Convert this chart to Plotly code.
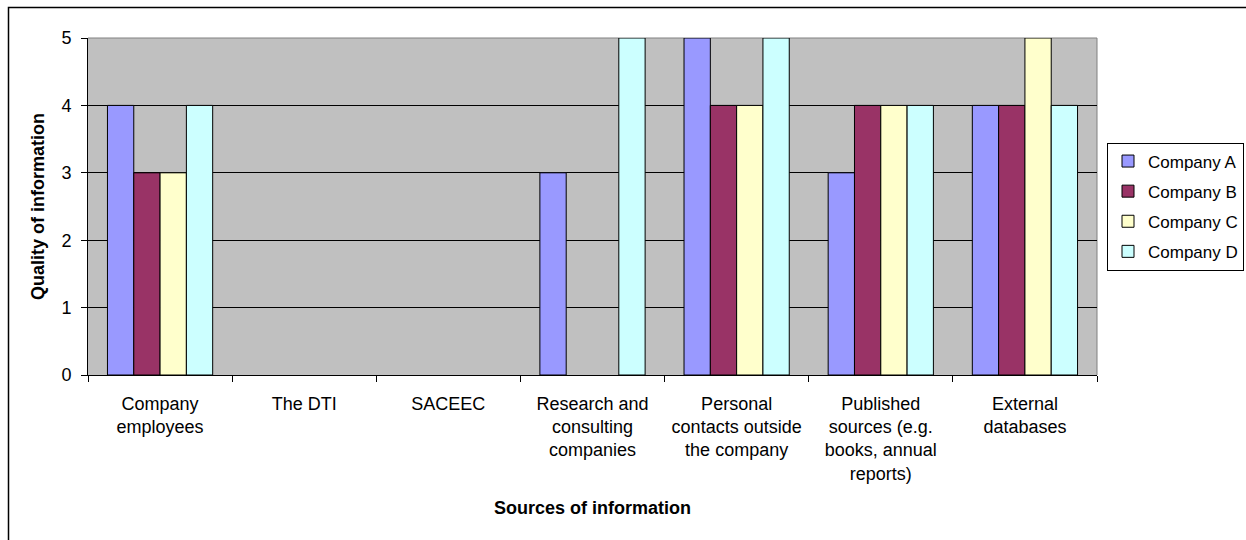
import plotly.graph_objects as go

# Sources of information (category axis), one group of four bars per source
sources = [
    "Company<br>employees",
    "The DTI",
    "SACEEC",
    "Research and<br>consulting<br>companies",
    "Personal<br>contacts outside<br>the company",
    "Published<br>sources (e.g.<br>books, annual<br>reports)",
    "External<br>databases",
]

# Quality of information ratings (None = no rating given)
company_a = [4, None, None, 3, 5, 3, 4]
company_b = [3, None, None, None, 4, 4, 4]
company_c = [3, None, None, None, 4, 4, 5]
company_d = [4, None, None, 5, 5, 4, 4]

series = [
    ("Company A", company_a, "#9999FF"),
    ("Company B", company_b, "#993366"),
    ("Company C", company_c, "#FFFFCC"),
    ("Company D", company_d, "#CCFFFF"),
]

FONT = "Liberation Sans, Arial, sans-serif"
FS = 18

fig = go.Figure()
for name, values, color in series:
    fig.add_trace(go.Bar(
        name=name,
        legendgroup=name,
        x=sources,
        y=values,
        marker=dict(color=color, line=dict(color="#000000", width=1)),
    ))

# plot area geometry in pixels
L, R, T, B = 88, 149, 38, 165
W, H = 1246, 540
pw, ph = W - L - R, H - T - B


def px_x(x):
    return (x - L) / pw


def px_y(y):
    return (H - B - y) / ph


fig.update_layout(
    width=W,
    height=H,
    margin=dict(l=L, r=R, t=T, b=B, pad=0, autoexpand=False),
    paper_bgcolor="#FFFFFF",
    plot_bgcolor="#C0C0C0",
    barmode="group",
    bargap=0.27,
    bargroupgap=0,
    font=dict(family=FONT, size=FS, color="#000000"),
    showlegend=True,
    legend=dict(
        x=px_x(1107),
        xanchor="left",
        y=0.5,
        yanchor="middle",
        bgcolor="#FFFFFF",
        bordercolor="#000000",
        borderwidth=1,
        font=dict(family=FONT, size=17, color="#000000"),
        itemwidth=30,
        tracegroupgap=5,
    ),
    xaxis=dict(
        type="category",
        tickson="boundaries",
        ticks="outside",
        ticklen=6,
        tickcolor="#000000",
        showline=True,
        linecolor="#000000",
        linewidth=1,
        showgrid=False,
        tickfont=dict(family=FONT, size=FS),
        ticklabelstandoff=12,
        title=dict(text="<b>Sources of information</b>",
                   font=dict(family=FONT, size=FS), standoff=18),
    ),
    yaxis=dict(
        range=[0, 5],
        tickvals=[0, 1, 2, 3, 4, 5],
        ticks="outside",
        ticklen=6,
        tickcolor="#000000",
        showline=True,
        linecolor="#000000",
        linewidth=1,
        showgrid=True,
        gridcolor="#000000",
        gridwidth=1,
        zeroline=False,
        tickfont=dict(family=FONT, size=FS),
        ticklabelstandoff=6,
        title=dict(text="<b>Quality of information</b>",
                   font=dict(family=FONT, size=FS), standoff=12),
    ),
    shapes=[
        # grey top and right edges of the plot area
        dict(type="line", xref="paper", yref="paper", x0=0, x1=1, y0=1, y1=1,
             line=dict(color="#808080", width=1), layer="between"),
        dict(type="line", xref="paper", yref="paper", x0=1, x1=1, y0=0, y1=1,
             line=dict(color="#808080", width=1), layer="between"),
        # chart area frame
        dict(type="rect", xref="paper", yref="paper",
             x0=px_x(8.5), x1=px_x(1300), y0=px_y(7.5), y1=px_y(600),
             line=dict(color="#000000", width=1.5), layer="above"),
    ],
)

fig.write_html("out.html")
